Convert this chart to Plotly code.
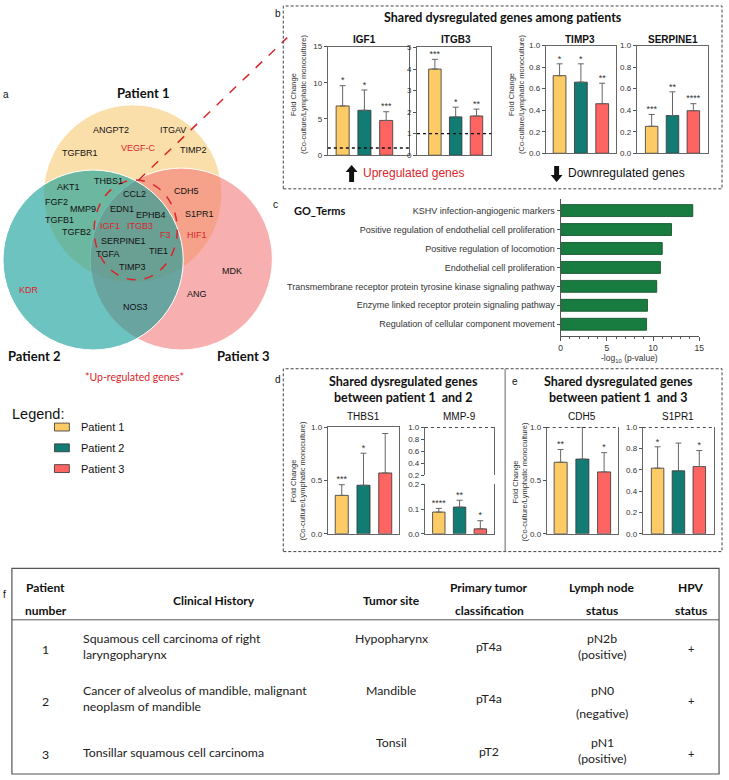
import plotly.graph_objects as go

W, H = 729, 780
ARIAL = "Liberation Sans, Arial, sans-serif"
CALIBRI = "Lato, Carlito, Calibri, sans-serif"

# ---------------- data ----------------
patients = ["Patient 1", "Patient 2", "Patient 3"]
patient_colors = ["#FDCB65", "#127B74", "#FE6461"]

venn_genes = ["ANGPT2", "ITGAV", "TGFBR1", "VEGF-C", "TIMP2", "AKT1", "THBS1", "CCL2",
              "CDH5", "FGF2", "MMP9", "EDN1", "EPHB4", "S1PR1", "TGFB1", "IGF1", "ITGB3",
              "F3", "HIF1", "TGFB2", "SERPINE1", "TIE1", "TGFA", "TIMP3", "MDK", "KDR",
              "ANG", "NOS3"]
upregulated = ["VEGF-C", "IGF1", "ITGB3", "F3", "HIF1", "KDR"]

igf1 = [6.8, 6.2, 4.8]
igf1_err = [2.8, 2.8, 1.2]
igf1_sig = ["*", "*", "***"]

itgb3 = [4.0, 1.78, 1.82]
itgb3_err = [0.45, 0.45, 0.32]
itgb3_sig = ["***", "*", "**"]

timp3 = [0.72, 0.66, 0.46]
timp3_err = [0.11, 0.17, 0.19]
timp3_sig = ["*", "*", "**"]

serpine1 = [0.25, 0.35, 0.395]
serpine1_err = [0.11, 0.22, 0.065]
serpine1_sig = ["***", "**", "****"]

thbs1 = [0.36, 0.455, 0.57]
thbs1_err = [0.10, 0.30, 0.37]
thbs1_sig = ["***", "*", ""]

mmp9 = [0.088, 0.108, 0.02]
mmp9_err = [0.015, 0.028, 0.033]
mmp9_sig = ["****", "**", "*"]

cdh5 = [0.67, 0.70, 0.58]
cdh5_err = [0.12, 0.30, 0.18]
cdh5_sig = ["**", "**", "*"]

s1pr1 = [0.615, 0.59, 0.63]
s1pr1_err = [0.20, 0.26, 0.15]
s1pr1_sig = ["*", "", "*"]

go_terms = ["KSHV infection-angiogenic markers",
            "Positive regulation of endothelial cell proliferation",
            "Positive regulation of locomotion",
            "Endothelial cell proliferation",
            "Transmembrane receptor protein tyrosine kinase signaling pathway",
            "Enzyme linked receptor protein signaling pathway",
            "Regulation of cellular component movement"]
go_logp = [14.3, 12.0, 11.0, 10.8, 10.4, 9.4, 9.3]

tbl_header = ["Patient<br>number", "Clinical History", "Tumor site",
              "Primary tumor<br>classification", "Lymph node<br>status", "HPV<br>status"]
tbl_patient = ["1", "2", "3"]
tbl_history = ["Squamous cell carcinoma of right<br>laryngopharynx",
               "Cancer of alveolus of mandible, malignant<br>neoplasm of mandible",
               "Tonsillar squamous cell carcinoma"]
tbl_site = ["Hypopharynx", "Mandible", "Tonsil"]
tbl_class = ["pT4a", "pT4a", "pT2"]
tbl_node = ["pN2b", "pN0", "pN1"]
tbl_node_status = ["(positive)", "(negative)", "(positive)"]
tbl_hpv = ["+", "+", "+"]


# ---------------- helpers ----------------
def px(x):
    return x / W


def py(y):
    return 1 - y / H


fig = go.Figure()
axes = {}
shapes = []
annotations = []


def note(text, x, y, size=9, color="#222", family=ARIAL, bold=False,
         xanchor="center", angle=0, align="center"):
    if bold:
        text = "<b>" + text + "</b>"
    annotations.append(dict(text=text, x=px(x), y=py(y), xref="paper", yref="paper",
                            showarrow=False, xanchor=xanchor, yanchor="middle",
                            textangle=angle, align=align,
                            font=dict(size=size, color=color, family=family)))


def bar_panel(n, vals, errs, sig, box, yrange, tickvals, xrange, fmt=None,
              top="solid", show_x=True, stars=True):
    xa = "x" if n == 1 else "x%d" % n
    ya = "y" if n == 1 else "y%d" % n
    fig.add_trace(go.Bar(
        x=[0, 1, 2], y=vals, width=0.6, xaxis=xa, yaxis=ya, showlegend=False,
        marker=dict(color=patient_colors, line=dict(color="#333", width=0.8)),
        error_y=dict(type="data", array=errs, arrayminus=[0, 0, 0], symmetric=False,
                     color="#666", thickness=1, width=3),
        hoverinfo="skip"))
    if stars:
        sx, sy, st, sp = [], [], [], []
        for i, (v, e, s) in enumerate(zip(vals, errs, sig)):
            if s:
                sx.append(i)
                sy.append(v + e)
                st.append(s)
                # a star sitting on the frame is half hidden, as in the source
                sp.append("middle center" if v + e >= yrange[1] else "top center")
        fig.add_trace(go.Scatter(
            x=sx, y=sy, text=st, mode="text", textposition=sp, xaxis=xa, yaxis=ya,
            textfont=dict(size=9, color="#333", family=ARIAL), cliponaxis=True,
            showlegend=False, hoverinfo="skip"))
    x0, y0, x1, y1 = box
    key = "" if n == 1 else str(n)
    axes["xaxis" + key] = dict(domain=[px(x0), px(x1)], range=xrange, anchor=ya,
                               showticklabels=False, ticks="", showgrid=False,
                               zeroline=False, showline=show_x, linecolor="#666",
                               linewidth=1, mirror=(top == "solid"), fixedrange=True)
    axes["yaxis" + key] = dict(domain=[py(y1), py(y0)], range=yrange, anchor=xa,
                               tickvals=tickvals, tickformat=fmt, ticks="outside",
                               ticklen=3, tickcolor="#555", showgrid=False, zeroline=False,
                               tickfont=dict(size=8, color="#333", family=ARIAL),
                               showline=True, linecolor="#666", linewidth=1, mirror=True)
    if top == "dotted":
        shapes.append(dict(type="line", xref=xa + " domain", yref=ya, x0=0, x1=1,
                           y0=yrange[1], y1=yrange[1],
                           line=dict(color="#111", width=1.2, dash="dot")))


# ---------------- panel a : Venn ----------------
note("a", 4, 92, size=10, color="#111")
venn = [  # cx, cy, r, fill  (drawn P1, P3, P2)
    (132, 192, 90, "rgba(248,196,102,0.55)"),
    (181, 258, 92, "rgba(242,110,110,0.55)"),
    (92, 259, 91, "rgba(20,158,154,0.62)"),
]
for cx, cy, r, col in venn:
    shapes.append(dict(type="circle", xref="paper", yref="paper",
                       x0=px(cx - r), x1=px(cx + r), y0=py(cy + r), y1=py(cy - r),
                       fillcolor=col, line=dict(color="white", width=1)))
shapes.append(dict(type="circle", xref="paper", yref="paper",
                   x0=px(93), x1=px(177), y0=py(279), y1=py(178),
                   line=dict(color="#D9262B", width=1.5, dash="dash")))
shapes.append(dict(type="line", xref="paper", yref="paper",
                   x0=px(138), y0=py(178), x1=px(288), y1=py(34),
                   line=dict(color="#D9262B", width=1.5, dash="dash")))

gene_pos = [(110, 127), (173, 127), (79, 151), (138, 146), (193, 148), (67, 185),
            (108, 179), (134, 192), (186, 189), (55, 200), (82, 207), (121, 207),
            (150, 213), (199, 212), (58, 219), (109, 225), (139, 225), (165, 234),
            (197, 234), (75, 231), (123, 240), (158, 250), (107, 253), (132, 266),
            (232, 270), (27, 289), (197, 293), (135, 307)]
for g, (gx, gy) in zip(venn_genes, gene_pos):
    note(g, gx, gy, size=9, color="#D9262B" if g in upregulated else "#111")

for name, (lx, ly) in zip(patients, [(142, 90), (32, 356), (243, 356)]):
    note(name, lx, ly, size=13, color="#111", family=CALIBRI, bold=True)
note("*Up-regulated genes*", 134, 377, size=10.5, color="#D9262B", family=CALIBRI)

# legend
note("Legend:", 8, 415, size=14.5, color="#111", xanchor="left")
for name, col, ly in zip(patients, patient_colors, [428, 449, 470]):
    shapes.append(dict(type="rect", xref="paper", yref="paper",
                       x0=px(53), x1=px(68), y0=py(ly + 4), y1=py(ly - 4),
                       fillcolor=col, line=dict(color="#333", width=0.8)))
    note(name, 78, ly, size=11, color="#111", xanchor="left")

# ---------------- panel b ----------------
note("b", 279, 10, size=10, color="#111")
shapes.append(dict(type="rect", xref="paper", yref="paper", x0=px(284), x1=px(727),
                   y0=py(187), y1=py(2), line=dict(color="#444", width=1, dash="3px,2px")))
note("Shared dysregulated genes among patients", 506, 14, size=12.5, color="#111",
     family=CALIBRI, bold=True)

bar_panel(1, igf1, igf1_err, igf1_sig, (329, 43, 411, 153), [0, 15], [0, 5, 10, 15],
          [-0.68, 3.05])
bar_panel(2, itgb3, itgb3_err, itgb3_sig, (419, 44, 494, 153), [0, 5], [0, 1, 2, 3, 4, 5],
          [-0.86, 2.71])
bar_panel(3, timp3, timp3_err, timp3_sig, (549, 42, 620, 151), [0, 1],
          [0, 0.2, 0.4, 0.6, 0.8, 1.0], [-0.65, 2.65], fmt=".1f")
bar_panel(4, serpine1, serpine1_err, serpine1_sig, (641, 42, 713, 151), [0, 1],
          [0, 0.2, 0.4, 0.6, 0.8, 1.0], [-0.71, 2.71], fmt=".1f")
for xa, ya in [("x", "y"), ("x2", "y2")]:
    shapes.append(dict(type="line", xref=xa + " domain", yref=ya, x0=0, x1=1, y0=1, y1=1,
                       line=dict(color="#111", width=1.3, dash="dot")))

for title, tx in zip(["IGF1", "ITGB3", "TIMP3", "SERPINE1"], [366, 458, 584, 678]):
    note(title, tx, 36, size=10, color="#111", bold=True)
ytitle = "Fold Change<br>(Co-culture/Lymphatic monoculture)"
note(ytitle, 300, 92, size=7.5, color="#333", angle=-90)
note(ytitle, 520, 92, size=7.5, color="#333", angle=-90)


# arrows
def arrow_path(cx, ytop, ybot, up=True):
    hw, sw, hh = 6, 2.5, 7
    if up:
        pts = [(cx, ytop), (cx + hw, ytop + hh), (cx + sw, ytop + hh), (cx + sw, ybot),
               (cx - sw, ybot), (cx - sw, ytop + hh), (cx - hw, ytop + hh)]
    else:
        pts = [(cx, ybot), (cx + hw, ybot - hh), (cx + sw, ybot - hh), (cx + sw, ytop),
               (cx - sw, ytop), (cx - sw, ybot - hh), (cx - hw, ybot - hh)]
    return "M " + " L ".join("%.5f,%.5f" % (px(a), py(b)) for a, b in pts) + " Z"


shapes.append(dict(type="path", xref="paper", yref="paper", path=arrow_path(353, 163, 180, True),
                   fillcolor="#111", line=dict(width=0)))
shapes.append(dict(type="path", xref="paper", yref="paper", path=arrow_path(560, 164, 180, False),
                   fillcolor="#111", line=dict(width=0)))
note("Upregulated genes", 362, 171, size=12, color="#D9262B", xanchor="left")
note("Downregulated genes", 569, 171, size=12, color="#111", xanchor="left")

# ---------------- panel c : GO terms ----------------
note("c", 276, 203, size=10, color="#111")
note("GO_Terms", 293, 209, size=11, color="#111", family=CALIBRI, bold=True, xanchor="left")
fig.add_trace(go.Bar(x=go_logp, y=go_terms, orientation="h", width=0.63,
                     marker=dict(color="#187C40", line=dict(color="#0E4A26", width=0.8)),
                     xaxis="x5", yaxis="y5", showlegend=False, hoverinfo="skip"))
axes["xaxis5"] = dict(domain=[px(564), px(704)], range=[0, 15], anchor="y5",
                      tickvals=[0, 5, 10, 15], ticks="outside", ticklen=4, tickcolor="#555",
                      minor=dict(ticks="outside", ticklen=2, dtick=1, tickcolor="#555"),
                      tickfont=dict(size=8.5, color="#333", family=ARIAL),
                      showline=True, linecolor="#555", showgrid=False, zeroline=False)
axes["yaxis5"] = dict(domain=[py(336), py(197)], anchor="x5", type="category",
                      categoryorder="array", categoryarray=go_terms,
                      range=[6.626, -0.626], ticks="outside", ticklen=3, tickcolor="#555",
                      tickfont=dict(size=9, color="#333", family=ARIAL),
                      showline=True, linecolor="#555", showgrid=False, zeroline=False)
note("-log<sub>10</sub> (p-value)", 634, 359, size=8.5, color="#333")

# ---------------- panels d & e ----------------
note("d", 279, 380, size=10, color="#111")
note("e", 518, 382, size=10, color="#111")
shapes.append(dict(type="rect", xref="paper", yref="paper", x0=px(284), x1=px(727),
                   y0=py(554), y1=py(369), line=dict(color="#444", width=1, dash="3px,2px")))
shapes.append(dict(type="line", xref="paper", yref="paper", x0=px(508), x1=px(508),
                   y0=py(554), y1=py(369), line=dict(color="#666", width=1)))
note("Shared dysregulated genes<br>between patient 1  and 2", 405, 390, size=12.5,
     color="#111", family=CALIBRI, bold=True)
note("Shared dysregulated genes<br>between patient 1  and 3", 622, 390, size=12.5,
     color="#111", family=CALIBRI, bold=True)

bar_panel(6, thbs1, thbs1_err, thbs1_sig, (329, 428, 401, 536), [0, 1], [0, 0.5, 1.0],
          [-0.64, 2.64], fmt=".1f")
bar_panel(7, mmp9, mmp9_err, mmp9_sig, (427, 428, 497, 477), [0.2, 1.0],
          [0.2, 0.4, 0.6, 0.8, 1.0], [-0.67, 2.67], fmt=".1f", top="dotted",
          show_x=False, stars=False)
bar_panel(8, mmp9, mmp9_err, mmp9_sig, (427, 486, 497, 536), [0, 0.2], [0, 0.1, 0.2],
          [-0.67, 2.67], fmt=".1f", top="none")
bar_panel(9, cdh5, cdh5_err, cdh5_sig, (550, 428, 622, 536), [0, 1], [0, 0.5, 1.0],
          [-0.64, 2.64], fmt=".1f", top="dotted")
bar_panel(10, s1pr1, s1pr1_err, s1pr1_sig, (647, 428, 719, 536), [0, 1],
          [0, 0.2, 0.4, 0.6, 0.8, 1.0], [-0.71, 2.71], fmt=".1f", top="dotted")

for title, tx in zip(["THBS1", "MMP-9", "CDH5", "S1PR1"], [365, 462, 586, 683]):
    note(title, tx, 417, size=10, color="#111")
note(ytitle, 299, 483, size=7.5, color="#333", angle=-90)
note(ytitle, 523, 483, size=7.5, color="#333", angle=-90)

# ---------------- panel f : table ----------------
note("f", 3, 597, size=10, color="#111")
shapes.append(dict(type="rect", xref="paper", yref="paper", x0=px(10), x1=px(724),
                   y0=py(779), y1=py(571), line=dict(color="#555", width=1.2)))
shapes.append(dict(type="line", xref="paper", yref="paper", x0=px(10), x1=px(724),
                   y0=py(623), y1=py(623), line=dict(color="#555", width=1)))

col_x = [44, 214, 393, 492, 606, 696]
for text, cx in zip(tbl_header, col_x):
    parts = text.split("<br>")
    if len(parts) == 1:
        note(parts[0], cx, 603, size=12, color="#111", family=CALIBRI, bold=True)
    else:
        note(parts[0], cx, 590, size=12, color="#111", family=CALIBRI, bold=True)
        note(parts[1], cx, 614, size=12, color="#111", family=CALIBRI, bold=True)

row_mid = [650, 703, 756]
row_top = [642, 695, 747]
node_bottom = [658, 718, 763]
for i in range(3):
    note(tbl_patient[i], col_x[0], row_mid[i] + 3, size=12.3, color="#222", family=CALIBRI)
    note(tbl_history[i], 80, row_mid[i] - (0 if i < 2 else -1), size=12.3, color="#222",
         family=CALIBRI, xanchor="left", align="left")
    note(tbl_site[i], col_x[2], row_top[i], size=12.3, color="#222", family=CALIBRI)
    note(tbl_class[i], col_x[3], row_mid[i], size=12.3, color="#222", family=CALIBRI)
    note(tbl_node[i], col_x[4], row_top[i], size=12.3, color="#222", family=CALIBRI)
    note(tbl_node_status[i], col_x[4], node_bottom[i], size=12.3, color="#222", family=CALIBRI)
    note(tbl_hpv[i], col_x[5], row_mid[i] + 2, size=11, color="#222", family=CALIBRI)

fig.update_layout(
    width=W, height=H, margin=dict(l=0, r=0, t=0, b=0),
    paper_bgcolor="white", plot_bgcolor="rgba(0,0,0,0)",
    shapes=shapes, annotations=annotations, showlegend=False,
    **axes
)

# page body has an 8px default margin; drop it so the figure fills the window
fig.write_html("out.html", config={"displayModeBar": False},
               post_script="document.body.style.margin='0px';")
